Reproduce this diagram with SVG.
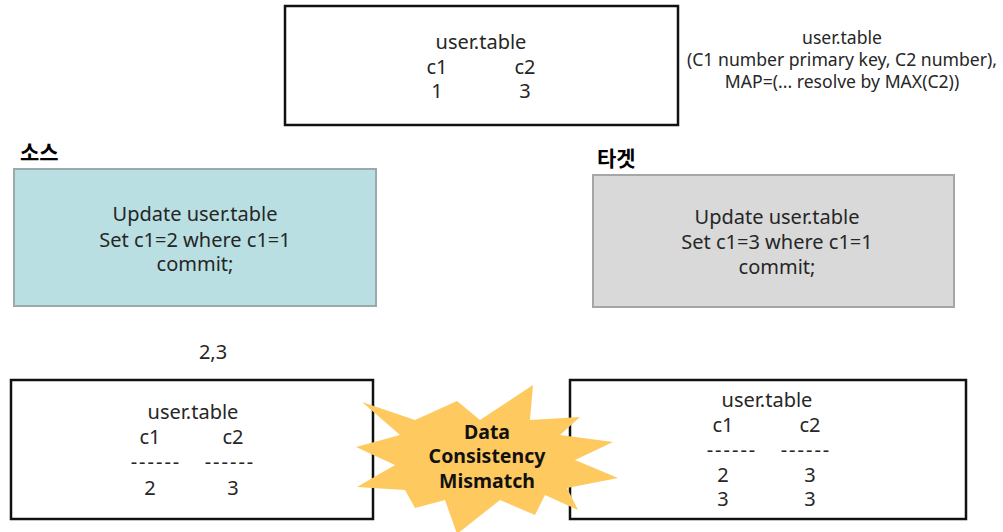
<svg xmlns="http://www.w3.org/2000/svg" width="1003" height="532" viewBox="0 0 1003 532">
<style>
text{font-family:"Noto Sans","Noto Sans CJK KR",sans-serif;fill:#262626;text-anchor:middle}
.t{font-size:20px}
.d{font-size:20px;letter-spacing:2px}
.s{font-size:17.6px}
.h{font-size:21px;font-weight:bold;text-anchor:start;fill:#000}
.b{font-size:19.5px;font-weight:bold;fill:#111}
.box{fill:#fff;stroke:#111;stroke-width:2.5}
</style>
<rect width="1003" height="532" fill="#fff"/>
<g id="top-table">
<rect class="box" x="285" y="6" width="393" height="119"/>
<text class="t" x="481" y="49">user.table</text>
<text class="t" x="437" y="74">c1</text>
<text class="t" x="525" y="74">c2</text>
<text class="t" x="437" y="98">1</text>
<text class="t" x="525" y="98">3</text>
</g>
<g id="note">
<text class="s" x="842" y="44">user.table</text>
<text class="s" x="842" y="66">(C1 number primary key, C2 number),</text>
<text class="s" x="842" y="88">MAP=(... resolve by MAX(C2))</text>
</g>
<g id="source-label"><text class="h" x="20" y="160">소스</text></g>
<g id="target-label"><text class="h" x="597" y="166">타겟</text></g>
<g id="source">
<rect x="14" y="169" width="362" height="137" fill="#b9dfe3" stroke="#9aa9ab" stroke-width="2"/>
<text class="t" x="195" y="221">Update user.table</text>
<text class="t" x="195" y="247">Set c1=2 where c1=1</text>
<text class="t" x="195" y="271">commit;</text>
</g>
<g id="target">
<rect x="593" y="175" width="361" height="132" fill="#d9d9d9" stroke="#a6a6a6" stroke-width="2"/>
<text class="t" x="777" y="224">Update user.table</text>
<text class="t" x="777" y="249">Set c1=3 where c1=1</text>
<text class="t" x="777" y="274">commit;</text>
</g>
<g id="value-label"><text class="t" x="213" y="359">2,3</text></g>
<g id="source-table">
<rect class="box" x="11" y="380" width="362" height="139"/>
<text class="t" x="193" y="419">user.table</text>
<text class="t" x="150" y="444">c1</text>
<text class="t" x="233" y="444">c2</text>
<text class="d" x="156" y="469">------</text>
<text class="d" x="230" y="469">------</text>
<text class="t" x="150" y="495">2</text>
<text class="t" x="233" y="495">3</text>
</g>
<g id="target-table">
<rect class="box" x="570" y="380" width="396" height="139"/>
<text class="t" x="767" y="407">user.table</text>
<text class="t" x="723" y="432">c1</text>
<text class="t" x="810" y="432">c2</text>
<text class="d" x="732" y="457">------</text>
<text class="d" x="806" y="457">------</text>
<text class="t" x="723" y="482">2</text>
<text class="t" x="810" y="482">3</text>
<text class="t" x="723" y="506">3</text>
<text class="t" x="810" y="506">3</text>
</g>
<g id="mismatch">
<polygon fill="#fec95f" points="362,402 415,420 457,401 480,420 533,385 530,420 580,417 560,435 613,442 575,460 618,478 567,488 578,510 545,495 535,515 500,500 457,534 445,500 415,508 405,490 357,487 395,465 356,447 400,435"/>
<text class="b" x="487" y="439">Data</text>
<text class="b" x="487" y="463">Consistency</text>
<text class="b" x="487" y="488">Mismatch</text>
</g>
</svg>
